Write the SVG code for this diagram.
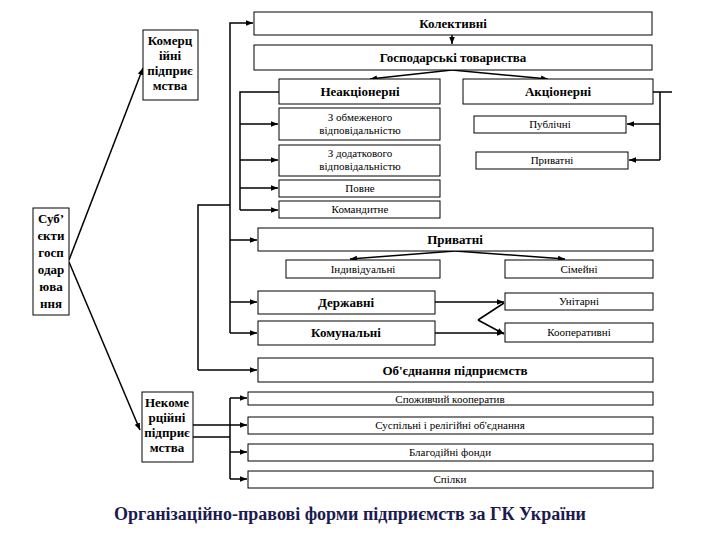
<svg xmlns="http://www.w3.org/2000/svg" width="720" height="540" viewBox="0 0 720 540">
<style>
rect{fill:#fff;stroke:#000;stroke-width:1}
text{font-family:'Liberation Serif','DejaVu Serif','Times New Roman',serif;fill:#000;text-anchor:middle}
.b{font-weight:bold;font-size:13px}
.s{font-size:11px}
.c line,.c polyline{stroke:#000;fill:none;stroke-width:1.5;marker-end:url(#a)}
.c .n{marker-end:none}
.t{font-weight:bold;font-size:18px;fill:#1b1b4f;text-anchor:start}
</style>
<defs><marker id="a" viewBox="0 0 10 10" refX="10" refY="5" markerWidth="7" markerHeight="7" orient="auto" markerUnits="userSpaceOnUse"><path d="M0,1 L10,5 L0,9z"/></marker></defs>
<rect width="720" height="540" style="stroke:none"/>
<g class="c">
<line x1="69" y1="260" x2="143" y2="68"/>
<line x1="69" y1="262" x2="140" y2="430"/>
<polyline class="n" points="198,370 198,205 230,205"/>
<line x1="198" y1="370" x2="257" y2="370"/>
<polyline points="230,333 230,23 253,23"/>
<polyline points="230,333 257,333"/>
<line x1="230" y1="240" x2="257" y2="240"/>
<line x1="230" y1="302" x2="257" y2="302"/>
<line x1="452" y1="35" x2="452" y2="44"/>
<line x1="452" y1="70" x2="370" y2="79"/>
<line x1="452" y1="70" x2="548" y2="79"/>
<polyline class="n" points="279,92 240,92 240,210"/>
<line x1="240" y1="124" x2="278" y2="124"/>
<line x1="240" y1="160" x2="278" y2="160"/>
<line x1="240" y1="188" x2="278" y2="188"/>
<line x1="240" y1="210" x2="278" y2="210"/>
<polyline class="n" points="653,92 672,92"/>
<polyline class="n" points="660,92 660,160"/>
<line x1="660" y1="124" x2="627" y2="124"/>
<line x1="660" y1="160" x2="629" y2="160"/>
<line x1="455" y1="251" x2="350" y2="259"/>
<line x1="455" y1="251" x2="565" y2="259"/>
<line x1="435" y1="302" x2="504" y2="302"/>
<line x1="435" y1="333" x2="504" y2="333"/>
<polyline class="n" points="478,320 504,303"/>
<line x1="478" y1="320" x2="504" y2="334"/>
<polyline class="n" points="193,425 230,425"/>
<polyline class="n" points="193,437 230,437"/>
<polyline class="n" points="230,398 230,479"/>
<line x1="230" y1="398" x2="247" y2="398"/>
<line x1="230" y1="425" x2="247" y2="425"/>
<line x1="230" y1="452" x2="247" y2="452"/>
<line x1="230" y1="479" x2="247" y2="479"/>
</g>
<g id="kol"><rect x="254" y="12" width="398" height="23"/><text class="b" x="453" y="28">Колективні</text></g>
<g id="gosp"><rect x="254" y="45" width="398" height="25"/><text class="b" x="453" y="62">Господарські товариства</text></g>
<g id="neak"><rect x="279" y="79" width="161" height="25"/><text class="b" x="360" y="96">Неакціонерні</text></g>
<g id="ak"><rect x="463" y="79" width="190" height="25"/><text class="b" x="558" y="96">Акціонерні</text></g>
<g id="obm"><rect x="279" y="108" width="161" height="32"/><text class="s" x="360" y="121">З обмеженого</text><text class="s" x="360" y="134">відповідальністю</text></g>
<g id="dod"><rect x="279" y="145" width="161" height="31"/><text class="s" x="360" y="157">З додаткового</text><text class="s" x="360" y="170">відповідальністю</text></g>
<g id="povne"><rect x="279" y="180" width="161" height="17"/><text class="s" x="360" y="192">Повне</text></g>
<g id="komand"><rect x="279" y="201" width="161" height="17"/><text class="s" x="360" y="213">Командитне</text></g>
<g id="publ"><rect x="474" y="116" width="152" height="17"/><text class="s" x="550" y="128">Публічні</text></g>
<g id="pryv2"><rect x="476" y="152" width="152" height="17"/><text class="s" x="552" y="164">Приватні</text></g>
<g id="komerc"><rect x="143" y="30" width="55" height="70"/><text class="b" x="170" y="45">Комерц</text><text class="b" x="170" y="60">ійні</text><text class="b" x="170" y="75">підприє</text><text class="b" x="170" y="90">мства</text></g>
<g id="subj"><rect x="33" y="208" width="36" height="107"/><text class="b" x="51" y="223">Суб’</text><text class="b" x="51" y="240">єкти</text><text class="b" x="51" y="257">госп</text><text class="b" x="51" y="274">одар</text><text class="b" x="51" y="291">юва</text><text class="b" x="51" y="308">ння</text></g>
<g id="pryv"><rect x="258" y="228" width="395" height="23"/><text class="b" x="455" y="244">Приватні</text></g>
<g id="indyv"><rect x="286" y="260" width="154" height="18"/><text class="s" x="363" y="273">Індивідуальні</text></g>
<g id="simei"><rect x="505" y="260" width="148" height="18"/><text class="s" x="579" y="273">Сімейні</text></g>
<g id="derzh"><rect x="258" y="291" width="177" height="23"/><text class="b" x="346" y="307">Державні</text></g>
<g id="unit"><rect x="505" y="293" width="148" height="17"/><text class="s" x="579" y="305">Унітарні</text></g>
<g id="komun"><rect x="258" y="321" width="177" height="24"/><text class="b" x="346" y="337">Комунальні</text></g>
<g id="koop"><rect x="505" y="323" width="148" height="19"/><text class="s" x="579" y="336">Кооперативні</text></g>
<g id="obied"><rect x="258" y="358" width="395" height="24"/><text class="b" x="455" y="375">Об'єднання підприємств</text></g>
<g id="nekom"><rect x="142" y="392" width="51" height="70"/><text class="b" x="167" y="407">Некоме</text><text class="b" x="167" y="422">рційні</text><text class="b" x="167" y="437">підприє</text><text class="b" x="167" y="452">мства</text></g>
<g id="spozh"><rect x="248" y="392" width="405" height="13"/><text class="s" x="450" y="403">Споживчий кооператив</text></g>
<g id="susp"><rect x="248" y="417" width="405" height="17"/><text class="s" x="450" y="429">Суспільні і релігійні об'єднання</text></g>
<g id="blag"><rect x="248" y="444" width="405" height="17"/><text class="s" x="450" y="456">Благодійні фонди</text></g>
<g id="spilky"><rect x="248" y="471" width="405" height="17"/><text class="s" x="450" y="483">Спілки</text></g>
<text class="t" x="114" y="520">Організаційно-правові форми підприємств за ГК України</text>
</svg>
